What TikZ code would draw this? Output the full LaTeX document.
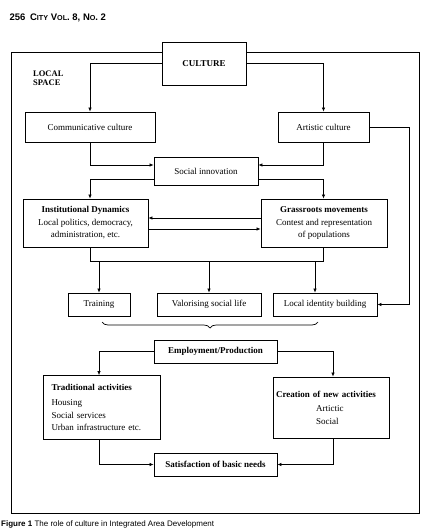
\documentclass[tikz,border=0pt]{standalone}
\usepackage{fontspec}
\setmainfont{Liberation Serif}
\newfontfamily\headfont{Liberation Sans}
\usetikzlibrary{positioning,arrows.meta,decorations.pathreplacing}
\newcommand{\fakesc}[2]{#1{\fontsize{7.2}{8}\selectfont #2}}

\begin{document}
\begin{tikzpicture}[x=1pt,y=-1pt,
            box/.style={draw, line width=0.8pt, fill=white, inner sep=2pt,
                        font=\fontsize{9}{12.5}\selectfont, align=center},
            arr/.style={line width=0.7pt, -{Latex[length=4pt,width=3.5pt]}},
            link/.style={line width=0.7pt}]
        \useasboundingbox (0,0) rectangle (436,529);
        % page header and outer frame
        \node[anchor=west, font=\headfont\bfseries\fontsize{9.5}{10}\selectfont] (head) at (6,18)
            {256\enspace\fakesc{C}{ITY} \fakesc{V}{OL}. 8, \fakesc{N}{O}. 2};
        \draw[line width=0.9pt] (11,52) rectangle (419,513);
        \node[anchor=north west, align=left, font=\bfseries\fontsize{8.5}{8.5}\selectfont,
              inner sep=0pt] (local) at (33,71) {LOCAL\\SPACE};

        \node[box, minimum width=84pt, minimum height=43pt] (cult) at (204,63.5) {\textbf{CULTURE}};
        \node[box, minimum width=130pt, minimum height=30pt] (comm) at (90,127) {Communicative culture};
        \node[box, minimum width=91pt, minimum height=30pt] (art) at (323.5,127) {Artistic culture};
        \node[box, minimum width=104pt, minimum height=28pt] (soc) at (206,171) {Social innovation};
        \node[box, minimum width=125pt, minimum height=48pt] (inst) at (85.5,223)
            {\textbf{Institutional Dynamics}\\Local politics, democracy,\\administration, etc.};
        \node[box, minimum width=126pt, minimum height=48pt] (grass) at (324,223)
            {\textbf{Grassroots movements}\\Contest and representation\\of populations};
        \node[box, minimum width=62pt, minimum height=23pt] (train) at (99,304.5) {Training};
        \node[box, minimum width=104pt, minimum height=23pt] (valor) at (209,304.5) {Valorising social life};
        \node[box, minimum width=104pt, minimum height=23pt] (ident) at (325,304.5) {Local identity building};
        \node[box, minimum width=123pt, minimum height=23pt] (emp) at (215.5,351.5) {\textbf{Employment/Production}};
        \node[box, minimum width=117pt, minimum height=61pt, text width=100pt, inner sep=8.5pt,
              align=left] (trad) at (101.5,407.5)
            {\textbf{Traditional activities}\\[3pt]Housing\\Social services\\Urban infrastructure etc.};
        \node[box, minimum width=116pt, minimum height=61pt, text width=110pt, inner sep=3pt,
              align=left] (creat) at (331,407.5)
            {\textbf{Creation of new activities}\\[2pt]\hspace*{40pt}Artictic\\\hspace*{40pt}Social\\[2pt]};
        \node[box, minimum width=123pt, minimum height=23pt] (satis) at (215.5,464.5) {\textbf{Satisfaction of basic needs}};

        % connectors
        \draw[arr] (cult.west) -| (comm.north);
        \draw[arr] (cult.east) -| (art.north);
        \draw[arr] (comm.south) |- ([yshift=6pt]soc.west);
        \draw[arr] (art.south) |- ([yshift=6pt]soc.east);
        \draw[arr] ([yshift=-8pt]soc.west) -| (comm.south |- inst.north);
        \draw[arr] ([yshift=-8pt]soc.east) -| (art.south |- grass.north);
        \draw[arr] ([yshift=5pt]grass.west) -- ([yshift=5pt]inst.east);
        \draw[arr] ([yshift=-6pt]inst.east) -- ([yshift=-6pt]grass.west);
        \coordinate (bus) at (0,261);
        \draw[link] (inst.south -| comm.south) |- (bus -| art.south) -- (grass.south -| art.south);
        \draw[arr] (bus -| train.north) -- (train.north);
        \draw[arr] (bus -| valor.north) -- (valor.north);
        \draw[arr] (bus -| ident.north) ++(-10,0) coordinate (identin) -- (identin |- ident.north);
        \draw[arr] (art.east) -- ++(40,0) |- (ident.east);
        \draw[link, decorate, decoration={brace, mirror, amplitude=6pt}] (102,322) -- (318,322);
        \draw[arr] (emp.west) -| (trad.north -| train.north);
        \draw[arr] (emp.east) -| ([xshift=2pt]creat.north);
        \draw[arr] (trad.south -| train.north) |- (satis.west);
        \draw[arr] ([xshift=2pt]creat.south) |- (satis.east);

        % caption
        \node[anchor=west, font=\headfont\fontsize{8}{9}\selectfont, inner sep=0pt] (capt) at (1,524)
            {\textbf{Figure 1} The role of culture in Integrated Area Development};
      \end{tikzpicture}
\end{document}
